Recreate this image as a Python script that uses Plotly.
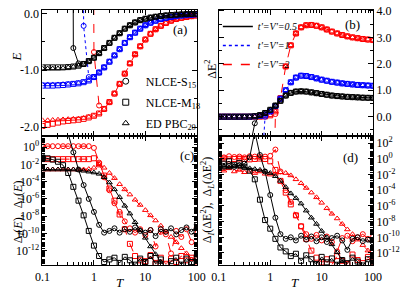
import plotly.graph_objects as go

# ---------------- data ----------------
T = [0.1, 0.126, 0.158, 0.2, 0.251, 0.316, 0.398, 0.501, 0.631, 0.794,
     1.0, 1.26, 1.58, 2.0, 2.51, 3.16, 3.98, 5.01, 6.31, 7.94,
     10.0, 12.6, 15.8, 20.0, 25.1, 31.6, 39.8, 50.1, 63.1, 79.4, 100.0]

# panel (a): energy E
E_black_ed = [-0.97, -0.97, -0.97, -0.97, -0.96, -0.95, -0.94, -0.92, -0.89, -0.84,
              -0.78, -0.70, -0.61, -0.52, -0.43, -0.35, -0.27, -0.21, -0.16, -0.12,
              -0.095, -0.075, -0.06, -0.047, -0.037, -0.03, -0.024, -0.019, -0.015, -0.012, -0.01]
E_black_m18 = [-0.95, -0.95, -0.95, -0.95, -0.95, -0.945, -0.935, -0.92, -0.89, -0.84,
               -0.78, -0.70, -0.61, -0.52, -0.43, -0.35, -0.27, -0.21, -0.16, -0.12,
               -0.095, -0.075, -0.06, -0.047, -0.037, -0.03, -0.024, -0.019, -0.015, -0.012, -0.01]
E_black_s15 = [30, 30, 30, 30, 30, 30, -0.61, -0.88, -0.89, -0.84,
               -0.78, -0.70, -0.61, -0.52, -0.43, -0.35, -0.27, -0.21, -0.16, -0.12,
               -0.095, -0.075, -0.06, -0.047, -0.037, -0.03, -0.024, -0.019, -0.015, -0.012, -0.01]
E_blue_ed = [-1.25, -1.25, -1.25, -1.25, -1.245, -1.24, -1.235, -1.225, -1.21, -1.18,
             -1.12, -1.04, -0.95, -0.85, -0.74, -0.63, -0.52, -0.42, -0.34, -0.27,
             -0.21, -0.165, -0.13, -0.10, -0.08, -0.063, -0.05, -0.04, -0.032, -0.025, -0.02]
E_blue_m18 = [-1.27, -1.27, -1.27, -1.265, -1.26, -1.25, -1.24, -1.23, -1.21, -1.18,
              -1.12, -1.04, -0.95, -0.85, -0.74, -0.63, -0.52, -0.42, -0.34, -0.27,
              -0.21, -0.165, -0.13, -0.10, -0.08, -0.063, -0.05, -0.04, -0.032, -0.025, -0.02]
E_blue_s15 = [30, 30, 30, 30, 30, 30, 30, 30, -0.22, -1.12,
              -1.12, -1.04, -0.95, -0.85, -0.74, -0.63, -0.52, -0.42, -0.34, -0.27,
              -0.21, -0.165, -0.13, -0.10, -0.08, -0.063, -0.05, -0.04, -0.032, -0.025, -0.02]
E_red_ed = [-1.88, -1.88, -1.875, -1.87, -1.865, -1.86, -1.855, -1.85, -1.84, -1.82,
            -1.80, -1.76, -1.68, -1.56, -1.41, -1.24, -1.06, -0.88, -0.72, -0.58,
            -0.46, -0.36, -0.28, -0.22, -0.17, -0.13, -0.10, -0.08, -0.065, -0.05, -0.04]
E_red_m18 = [-1.98, -1.96, -1.94, -1.92, -1.90, -1.89, -1.88, -1.87, -1.855, -1.83,
             -1.80, -1.76, -1.68, -1.56, -1.41, -1.24, -1.06, -0.88, -0.72, -0.58,
             -0.46, -0.36, -0.28, -0.22, -0.17, -0.13, -0.10, -0.08, -0.065, -0.05, -0.04]
E_red_s15 = [30, 30, 30, 30, 30, 30, 30, 30, 30, 30,
             -0.68, -1.62, -1.68, -1.56, -1.41, -1.24, -1.06, -0.88, -0.72, -0.58,
             -0.46, -0.36, -0.28, -0.22, -0.17, -0.13, -0.10, -0.08, -0.065, -0.05, -0.04]

# panel (b): energy fluctuation dE^2
D2_black = [0, 0, 0, 0, 0, 0, 0.005, 0.02, 0.06, 0.14,
            0.26, 0.42, 0.60, 0.80, 0.90, 0.95, 0.96, 0.95, 0.92, 0.89,
            0.86, 0.83, 0.80, 0.78, 0.765, 0.75, 0.74, 0.73, 0.72, 0.715, 0.71]
D2_black_s15 = [-30, -30, -30, -30, -30, -30, -1.2, -0.25, 0.06, 0.14,
                0.26, 0.42, 0.60, 0.80, 0.90, 0.95, 0.96, 0.95, 0.92, 0.89,
                0.86, 0.83, 0.80, 0.78, 0.765, 0.75, 0.74, 0.73, 0.72, 0.715, 0.71]
D2_blue = [0, 0, 0, 0, 0, 0, 0, 0.01, 0.03, 0.08,
           0.20, 0.40, 0.68, 1.00, 1.30, 1.48, 1.55, 1.54, 1.50, 1.45,
           1.40, 1.36, 1.32, 1.29, 1.26, 1.24, 1.22, 1.20, 1.19, 1.18, 1.17]
D2_blue_s15 = [-30, -30, -30, -30, -30, -30, -30, -30, -3.0, 0.0,
               0.20, 0.40, 0.68, 1.00, 1.30, 1.48, 1.55, 1.54, 1.50, 1.45,
               1.40, 1.36, 1.32, 1.29, 1.26, 1.24, 1.22, 1.20, 1.19, 1.18, 1.17]
D2_red = [0, 0, 0, 0, 0, 0, 0, 0, 0, 0.01,
          0.05, 0.20, 0.70, 1.90, 2.70, 3.15, 3.38, 3.46, 3.47, 3.44,
          3.38, 3.30, 3.22, 3.15, 3.09, 3.04, 3.00, 2.97, 2.94, 2.92, 2.90]
D2_red_s15 = [-30, -30, -30, -30, -30, -30, -30, -30, -30, -30,
              -10.0, 0.10, 0.70, 1.90, 2.70, 3.15, 3.38, 3.46, 3.47, 3.44,
              3.38, 3.30, 3.22, 3.15, 3.09, 3.04, 3.00, 2.97, 2.94, 2.92, 2.90]

# panel (c): log10 of convergence measures of E
c_black_s15 = [2.0, 2.0, 2.0, 2.0, 2.0, 1.5, -0.6, -2.6, -4.4, -6.0,
               -7.5, -9.0, -9.9, -9.7, -9.4, -9.9, -9.5, -9.8, -9.3, -9.7,
               -9.9, -9.6, -10.3, -9.5, -9.8, -9.4, -10.1, -9.6, -9.3, -9.8, -9.0]
c_black_m18 = [-1.2, -1.3, -1.45, -1.7, -2.1, -3.0, -4.6, -6.2, -7.9, -9.7,
               -11.4, -12.6, -13.3, -13.0, -12.8, -13.4, -12.7, -13.1, -13.6, -12.9,
               -13.3, -12.6, -13.5, -13.0, -14.2, -13.2, -12.8, -13.6, -12.9, -13.3, -12.7]
c_black_ed = [-2.6, -2.6, -2.6, -2.6, -2.6, -2.6, -2.6, -2.65, -2.75, -2.85,
              -2.95, -3.1, -3.5, -4.1, -4.9, -5.8, -6.8, -7.7, -8.7, -9.6,
              -10.5, -11.5, -12.4, -13.3, -13.9, -14.6, -16, -16, -16, -16, -16]
c_red_s15 = [0.1, 0.1, 0.1, 0.1, 0.1, 0.1, 0.1, 0.1, 0.1, 0.1,
             -0.1, -1.8, -3.5, -5.0, -6.5, -7.5, -8.6, -9.4, -9.9, -9.5,
             -10.2, -9.6, -11.5, -9.8, -10.1, -12.3, -9.7, -10.4, -9.5, -11.0, -9.3]
c_red_m18 = [-1.4, -1.4, -1.4, -1.4, -1.4, -1.4, -1.4, -1.4, -1.4, -1.4,
             -1.3, -2.0, -3.3, -4.8, -6.2, -7.8, -9.5, -11.2, -12.6, -13.1,
             -13.2, -12.5, -13.4, -12.8, -13.5, -12.9, -13.3, -12.6, -13.1, -12.8, -13.0]
c_red_ed = [-2.6, -2.6, -2.6, -2.6, -2.6, -2.6, -2.6, -2.6, -2.6, -2.55,
            -2.4, -2.0, -2.4, -3.0, -3.6, -4.3, -4.9, -5.5, -6.1, -6.7,
            -7.3, -7.9, -8.5, -9.1, -9.8, -10.4, -11.0, -11.7, -12.3, -13.0, -13.5]

# panel (d): log10 of convergence measures of dE^2
d_black_s15 = [-1.1, -1.0, -0.9, -1.0, -0.8, -0.6, 0.2, 3.5, 0.5, -1.6,
               -4.6, -7.5, -9.6, -10.2, -10.0, -10.4, -9.8, -10.3, -9.9, -10.5,
               -10.0, -10.6, -10.1, -9.8, -10.4, -11.6, -10.2, -10.0, -10.5, -10.3, -11.2]
d_black_m18 = [-0.4, -0.6, -0.3, -0.8, -0.5, -1.0, -1.5, -2.6, -5.2, -7.8,
               -8.9, -10.2, -11.3, -11.8, -12.4, -12.1, -13.0, -12.3, -12.8, -13.4,
               -12.5, -13.2, -12.7, -13.5, -12.9, -13.3, -12.6, -13.1, -13.6, -12.8, -13.2]
d_black_ed = [-1.2, -1.0, -1.1, -0.9, -1.0, -1.1, -1.2, -1.3, -1.4, -1.6,
              -1.8, -2.2, -2.8, -3.6, -4.4, -5.0, -5.7, -6.6, -7.5, -8.3,
              -9.2, -10.0, -10.9, -11.9, -12.9, -14.0, -15, -15, -15, -15, -15]
d_red_s15 = [0.3, 0.2, 0.35, 0.25, 0.3, 0.2, 0.35, 0.3, 0.25, 0.3,
             0.4, 1.2, -1.6, -4.0, -5.5, -7.2, -8.6, -9.6, -10.2, -9.7,
             -10.4, -9.9, -10.6, -11.8, -10.1, -9.8, -10.5, -10.0, -9.6, -10.2, -9.9]
d_red_m18 = [0.0, 0.05, -0.05, 0.0, 0.05, 0.0, -0.05, 0.0, 0.05, 0.0,
             -0.3, -1.4, -2.8, -4.3, -5.8, -7.2, -8.6, -10.2, -11.7, -12.6,
             -13.2, -12.8, -13.5, -12.4, -13.0, -13.4, -12.2, -12.9, -13.3, -12.5, -13.1]
d_red_ed = [-1.3, -1.5, -1.2, -1.6, -1.4, -1.7, -1.5, -1.8, -1.6, -1.9,
            -2.0, -1.9, -1.7, -1.8, -2.1, -2.6, -3.1, -3.7, -4.3, -4.9,
            -5.6, -6.3, -7.0, -7.6, -8.3, -9.0, -9.6, -10.3, -11.0, -11.7, -12.4]

x_ticks = [0.1, 1, 10, 100]
x_ticktext = ["0.1", "1", "10", "100"]
E_ticks = [0.0, -1.0, -2.0]
E_ticktext = ["0.0", "-1.0", "-2.0"]
D2_ticks = [0.0, 1.0, 2.0, 3.0, 4.0]
D2_ticktext = ["0.0", "1.0", "2.0", "3.0", "4.0"]
log_labels_c = [0, -2, -4, -6, -8, -10, -12]
log_labels_d = [2, 0, -2, -4, -6, -8, -10, -12]

legend_markers = ["NLCE-S<sub>15</sub>", "NLCE-M<sub>18</sub>", "ED PBC<sub>20</sub>"]
legend_lines = ["<i>t'=V'=0.5</i>", "<i>t'=V'=1</i>", "<i>t'=V'=2</i>"]

# ---------------- figure ----------------
W, H = 407, 289
SERIF = "Liberation Serif"
BLACK, BLUE, RED = "#000000", "#0000ff", "#ff0000"
SYM = {"s15": "circle-open", "m18": "square-open", "ed": "triangle-up-open"}
DASH = {BLACK: "solid", BLUE: "dot", RED: "dash"}

fig = go.Figure()


def add(xa, ya, y, color, kind, with_line):
    fig.add_trace(go.Scatter(
        x=T, y=y, xaxis=xa, yaxis=ya,
        mode="lines+markers" if with_line else "markers",
        line=dict(color=color, width=1, dash=DASH[color]),
        marker=dict(symbol=SYM[kind], size=5, color=color, line=dict(width=1, color=color)),
        showlegend=False, hoverinfo="skip", cliponaxis=True))


# panel (a)
for color, s15, m18, ed in [(RED, E_red_s15, E_red_m18, E_red_ed),
                            (BLUE, E_blue_s15, E_blue_m18, E_blue_ed),
                            (BLACK, E_black_s15, E_black_m18, E_black_ed)]:
    add("x", "y", ed, color, "ed", False)
    add("x", "y", m18, color, "m18", False)
    add("x", "y", s15, color, "s15", True)

# panel (b)
for color, s15, base in [(RED, D2_red_s15, D2_red),
                         (BLUE, D2_blue_s15, D2_blue),
                         (BLACK, D2_black_s15, D2_black)]:
    add("x2", "y2", base, color, "ed", False)
    add("x2", "y2", base, color, "m18", False)
    add("x2", "y2", s15, color, "s15", True)

# panels (c), (d)
for xa, ya, sets in [("x3", "y3", [(RED, c_red_s15, c_red_m18, c_red_ed),
                                   (BLACK, c_black_s15, c_black_m18, c_black_ed)]),
                     ("x4", "y4", [(RED, d_red_s15, d_red_m18, d_red_ed),
                                   (BLACK, d_black_s15, d_black_m18, d_black_ed)])]:
    for color, s15, m18, ed in sets:
        for kind, arr in [("ed", ed), ("m18", m18), ("s15", s15)]:
            add(xa, ya, [10 ** e for e in arr], color, kind, True)

# legend entries (markers) and (lines)
for i, (name, kind) in enumerate(zip(legend_markers, ["s15", "m18", "ed"])):
    fig.add_trace(go.Scatter(x=[None], y=[None], mode="markers", name=name,
                             marker=dict(symbol=SYM[kind], size=6, color=BLACK, line=dict(width=1, color=BLACK)),
                             legend="legend", legendgroup="m%d" % i, showlegend=True))
for name, color in zip(legend_lines, [BLACK, BLUE, RED]):
    fig.add_trace(go.Scatter(x=[None], y=[None], mode="lines", name=name,
                             line=dict(color=color, width=1.5, dash=DASH[color]),
                             legend="legend2", showlegend=True))

minor_x = [k * 10 ** e for e in (-1, 0, 1) for k in range(2, 10)]
minor_log = [k * 10.0 ** e for e in range(-15, 4) for k in range(1, 10) if not (k == 1 and e % 2 == 0)]

common = dict(showline=True, linecolor="black", linewidth=1, mirror="allticks",
              ticks="inside", ticklen=5, tickwidth=1, tickcolor="black",
              showgrid=False, zeroline=False,
              tickfont=dict(family=SERIF, size=12, color="black"))

xL = [36 / W, 197 / W]
xR = [220 / W, 381 / W]
yT = [1 - 133 / H, 1 - 4 / H]
yB = [1 - 265 / H, 1 - 133 / H]

xminor = dict(ticks="inside", ticklen=3, tickvals=minor_x, tickcolor="black", showgrid=False)
logminor = dict(ticks="inside", ticklen=3, tickvals=minor_log, tickcolor="black", showgrid=False)

fig.update_layout(
    width=W, height=H, margin=dict(l=0, r=0, t=0, b=0),
    paper_bgcolor="white", plot_bgcolor="white",
    font=dict(family=SERIF, size=12, color="black"),
    xaxis=dict(common, type="log", range=[-1, 2], domain=xL, anchor="y",
               tickvals=x_ticks, showticklabels=False, minor=xminor),
    yaxis=dict(common, range=[-2.16, 0.06], domain=yT, anchor="x",
               tickvals=E_ticks, ticktext=E_ticktext,
               minor=dict(ticks="inside", ticklen=3, tickvals=[-0.5, -1.5], tickcolor="black")),
    xaxis2=dict(common, type="log", range=[-1, 2], domain=xR, anchor="y2",
                tickvals=x_ticks, showticklabels=False, minor=xminor),
    yaxis2=dict(common, range=[-0.74, 4.04], domain=yT, anchor="x2", side="right",
                tickvals=D2_ticks, ticktext=D2_ticktext,
                minor=dict(ticks="inside", ticklen=3, tickvals=[-0.5, 0.5, 1.5, 2.5, 3.5], tickcolor="black")),
    xaxis3=dict(common, type="log", range=[-1, 2], domain=xL, anchor="y3",
                tickvals=x_ticks, ticktext=x_ticktext, minor=xminor),
    yaxis3=dict(common, type="log", range=[-13.7, 1.25], domain=yB, anchor="x3",
                tickvals=[10.0 ** e for e in log_labels_c],
                ticktext=["10<sup>%d</sup>" % e for e in log_labels_c],
                ticklen=5, minor=logminor),
    xaxis4=dict(common, type="log", range=[-1, 2], domain=xR, anchor="y4",
                tickvals=x_ticks, ticktext=x_ticktext, minor=xminor),
    yaxis4=dict(common, type="log", range=[-13.6, 2.9], domain=yB, anchor="x4", side="right",
                tickvals=[10.0 ** e for e in log_labels_d],
                ticktext=["10<sup>%d</sup>" % e for e in log_labels_d],
                ticklen=5, minor=logminor),
    legend=dict(x=102 / W, y=1 - 62 / H, xanchor="left", yanchor="top",
                bgcolor="rgba(0,0,0,0)", borderwidth=0, tracegroupgap=2,
                font=dict(family=SERIF, size=12, color="black")),
    legend2=dict(x=219 / W, y=1 - 6 / H, xanchor="left", yanchor="top",
                 bgcolor="rgba(0,0,0,0)", borderwidth=0,
                 font=dict(family=SERIF, size=10, color="black")),
)

ann = [
    dict(text="<i>E</i>", x=9, y=52, angle=-90, size=13),
    dict(text="ΔE<sup>2</sup>", x=212, y=65, angle=-90, size=12),
    dict(text="Δ<sub><i>I</i></sub>(<i>E</i>),  Δ<sub><i>L</i></sub>(<i>E</i>)", x=11, y=210, angle=-90, size=12),
    dict(text="Δ<sub><i>I</i></sub>(ΔE<sup>2</sup>),  Δ<sub><i>L</i></sub>(ΔE<sup>2</sup>)", x=209, y=198, angle=-90, size=12),
    dict(text="<i>T</i>", x=117, y=282, angle=0, size=13),
    dict(text="<i>T</i>", x=300, y=282, angle=0, size=13),
    dict(text="(a)", x=180, y=24, angle=0, size=13),
    dict(text="(b)", x=360, y=19, angle=0, size=13),
    dict(text="(c)", x=187, y=153, angle=0, size=13),
    dict(text="(d)", x=357, y=155, angle=0, size=13),
]
for a in ann:
    fig.add_annotation(text=a["text"], x=a["x"] / W, y=1 - a["y"] / H, xref="paper", yref="paper",
                       showarrow=False, textangle=a["angle"], xanchor="center", yanchor="middle",
                       font=dict(family=SERIF, size=a["size"], color="black"))

fig.write_html("out.html", config={"displayModeBar": False, "staticPlot": True},
               post_script="document.body.style.margin='0';document.body.style.padding='0';"
                           "document.body.style.overflow='hidden';")
